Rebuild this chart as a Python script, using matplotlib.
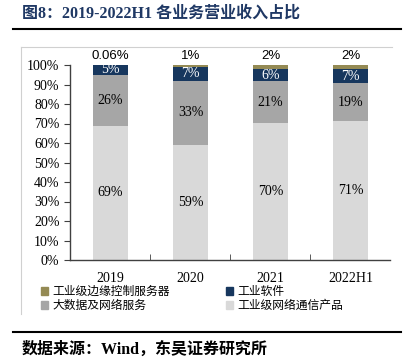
import matplotlib
matplotlib.use("Agg")
import matplotlib.pyplot as plt
from matplotlib.lines import Line2D
from matplotlib.patches import Patch
import numpy as np

years = ["2019", "2020", "2021", "2022H1"]
# shares of revenue, %
network_products = [68.94, 59.0, 70.4, 71.2]   # 工业级网络通信产品
big_data = [26.0, 33.0, 21.2, 19.4]            # 大数据及网络服务
software = [5.0, 7.0, 6.4, 7.2]                # 工业软件
edge_servers = [0.06, 1.0, 2.0, 2.2]           # 工业级边缘控制服务器

c_light = "#d9d9d9"
c_gray = "#a6a6a6"
c_navy = "#17375e"
c_gold = "#948a54"

serif = ["Liberation Serif", "Noto Sans CJK SC"]
cjk = ["Noto Sans CJK SC", "DejaVu Sans"]

fig = plt.figure(figsize=(4.10, 3.57), dpi=100)
ax = fig.add_axes([70.5 / 410, 97 / 357, 320 / 410, 195 / 357])

x = np.arange(len(years))
w = 0.43
b1 = np.array(network_products)
b2 = b1 + np.array(big_data)
b3 = b2 + np.array(software)

ax.bar(x, network_products, w, color=c_light)
ax.bar(x, big_data, w, bottom=b1, color=c_gray)
ax.bar(x, software, w, bottom=b2, color=c_navy)
ax.bar(x, edge_servers, w, bottom=b3, color=c_gold)

for i in range(len(years)):
    ax.text(x[i], b1[i] / 2, f"{network_products[i]:.0f}%", ha="center", va="center",
            family=serif, fontsize=10, color="black")
    ax.text(x[i], b1[i] + big_data[i] / 2, f"{big_data[i]:.0f}%", ha="center", va="center",
            family=serif, fontsize=10, color="black")
    ax.text(x[i], b2[i] + software[i] / 2, f"{software[i]:.0f}%", ha="center", va="center",
            family=serif, fontsize=10, color="white")
    v = edge_servers[i]
    lab = f"{v:.2f}%" if v < 0.5 else f"{v:.0f}%"
    ax.text(x[i], 101.5, lab, ha="center", va="bottom",
            family="Liberation Sans", fontsize=9.5, color="black")

ax.set_xlim(-0.5, 3.5)
ax.set_ylim(0, 100)
ax.set_yticks(range(0, 101, 10))
ax.set_yticklabels([f"{t}%" for t in range(0, 101, 10)], family=serif, fontsize=10)
ax.set_xticks(x)
ax.set_xticklabels(years, family=serif, fontsize=10)
ax.set_xticks([0.5, 1.5, 2.5], minor=True)
ax.tick_params(axis="x", which="major", length=0, pad=9)
ax.tick_params(axis="x", which="minor", direction="in", length=4, color="#404040")
ax.tick_params(axis="y", direction="out", length=4, color="#404040", pad=4)
for s in ["top", "right"]:
    ax.spines[s].set_visible(False)
for s in ["left", "bottom"]:
    ax.spines[s].set_color("#404040")
    ax.spines[s].set_linewidth(1.0)

# column-major fill: gold / gray in column 1, navy / light in column 2
handles = [
    Patch(color=c_gold, label="工业级边缘控制服务器"),
    Patch(color=c_gray, label="大数据及网络服务"),
    Patch(color=c_navy, label="工业软件"),
    Patch(color=c_light, label="工业级网络通信产品"),
]
fig.legend(handles=handles, loc="upper left", bbox_to_anchor=(41 / 410, 1 - 285 / 357),
           ncol=2, frameon=False, prop={"family": cjk, "size": 8.5},
           handlelength=0.6, handleheight=0.6, handletextpad=0.35,
           columnspacing=4.8, labelspacing=0.1, borderaxespad=0, borderpad=0)

# chart frame (top and left edges visible)
fig.add_artist(Line2D([21 / 410, 392 / 410], [1 - 47 / 357, 1 - 47 / 357], color="#d0d0d0", lw=0.8))
fig.add_artist(Line2D([21 / 410, 21 / 410], [1 - 47 / 357, 1 - 314 / 357], color="#d0d0d0", lw=0.8))

# title and rule
fig.text(22 / 410, 1 - 14 / 357, "图8：2019-2022H1 各业务营业收入占比", ha="left", va="center",
         family=serif, fontsize=11.5, fontweight="bold", color="#1f3864")
fig.add_artist(Line2D([13 / 410, 401 / 410], [1 - 29 / 357, 1 - 29 / 357], color="black", lw=1.5))

# source
fig.add_artist(Line2D([13 / 410, 401 / 410], [1 - 332 / 357, 1 - 332 / 357], color="black", lw=1.5))
fig.text(22 / 410, 1 - 350 / 357, "数据来源：Wind，东吴证券研究所", ha="left", va="center",
         family=serif, fontsize=11.5, fontweight="bold", color="black")

fig.savefig("out.png", dpi=100)
